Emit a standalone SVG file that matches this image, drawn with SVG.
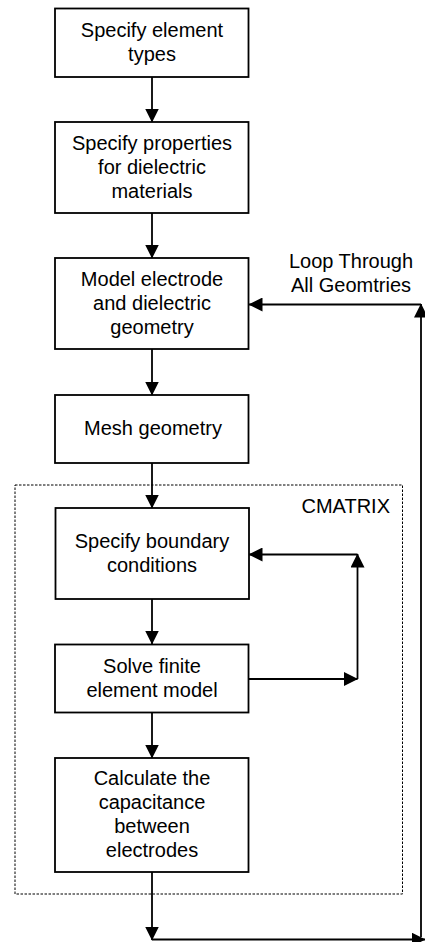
<svg xmlns="http://www.w3.org/2000/svg" width="425" height="942" viewBox="0 0 425 942">
<defs>
<marker id="ah" markerUnits="userSpaceOnUse" markerWidth="14" markerHeight="14" refX="13.5" refY="7" orient="auto">
<path d="M0,0 L14,7 L0,14 z" fill="#000"/>
</marker>
<style>
.box{fill:#fff;stroke:#000;stroke-width:1.8}
.t{font-family:"Liberation Sans",Arial,sans-serif;font-size:20px;fill:#000;text-anchor:middle}
.c{fill:none;stroke:#000;stroke-width:1.8}
.dash{fill:none;stroke:#000;stroke-width:1;stroke-dasharray:2.5,1.5}
</style>
</defs>
<rect class="dash" x="15" y="485" width="387.5" height="409"/>
<text class="t" x="390" y="513" style="text-anchor:end">CMATRIX</text>
<g id="connectors">
<line class="c" x1="152" y1="77" x2="152" y2="122" marker-end="url(#ah)"/>
<line class="c" x1="152" y1="213" x2="152" y2="258" marker-end="url(#ah)"/>
<line class="c" x1="152" y1="349" x2="152" y2="395" marker-end="url(#ah)"/>
<line class="c" x1="152" y1="463" x2="152" y2="508" marker-end="url(#ah)"/>
<line class="c" x1="152" y1="599" x2="152" y2="644" marker-end="url(#ah)"/>
<line class="c" x1="152" y1="713" x2="152" y2="758" marker-end="url(#ah)"/>
<line class="c" x1="152" y1="872" x2="152" y2="940" marker-end="url(#ah)"/>
<line class="c" x1="152" y1="939.5" x2="425" y2="939.5" marker-end="url(#ah)"/>
<line class="c" x1="421" y1="937" x2="421" y2="304" marker-end="url(#ah)"/>
<line class="c" x1="421" y1="304.5" x2="249" y2="304.5" marker-end="url(#ah)"/>
<line class="c" x1="249" y1="679" x2="357.5" y2="679" marker-end="url(#ah)"/>
<line class="c" x1="357.5" y1="679" x2="357.5" y2="554" marker-end="url(#ah)"/>
<line class="c" x1="357.5" y1="554.5" x2="249" y2="554.5" marker-end="url(#ah)"/>
</g>
<text class="t" x="351" y="268">Loop Through</text>
<text class="t" x="351" y="292">All Geomtries</text>
<g id="n1">
<rect class="box" x="55" y="8.5" width="193.5" height="68.5"/>
<text class="t" x="152" y="37">Specify element</text>
<text class="t" x="152" y="61">types</text>
</g>
<g id="n2">
<rect class="box" x="55" y="122" width="193.5" height="91"/>
<text class="t" x="152" y="150">Specify properties</text>
<text class="t" x="152" y="174">for dielectric</text>
<text class="t" x="152" y="198">materials</text>
</g>
<g id="n3">
<rect class="box" x="55" y="258" width="193.5" height="91"/>
<text class="t" x="152" y="286">Model electrode</text>
<text class="t" x="152" y="310">and dielectric</text>
<text class="t" x="152" y="334">geometry</text>
</g>
<g id="n4">
<rect class="box" x="55" y="395" width="193.5" height="68"/>
<text class="t" x="153" y="435">Mesh geometry</text>
</g>
<g id="n5">
<rect class="box" x="55.5" y="508" width="193.5" height="91"/>
<text class="t" x="152" y="548">Specify boundary</text>
<text class="t" x="152" y="572">conditions</text>
</g>
<g id="n6">
<rect class="box" x="55" y="644.5" width="193.5" height="68"/>
<text class="t" x="152" y="673">Solve finite</text>
<text class="t" x="152" y="697">element model</text>
</g>
<g id="n7">
<rect class="box" x="55" y="758" width="193.5" height="114"/>
<text class="t" x="152" y="785">Calculate the</text>
<text class="t" x="152" y="809">capacitance</text>
<text class="t" x="152" y="833">between</text>
<text class="t" x="152" y="857">electrodes</text>
</g>
</svg>
